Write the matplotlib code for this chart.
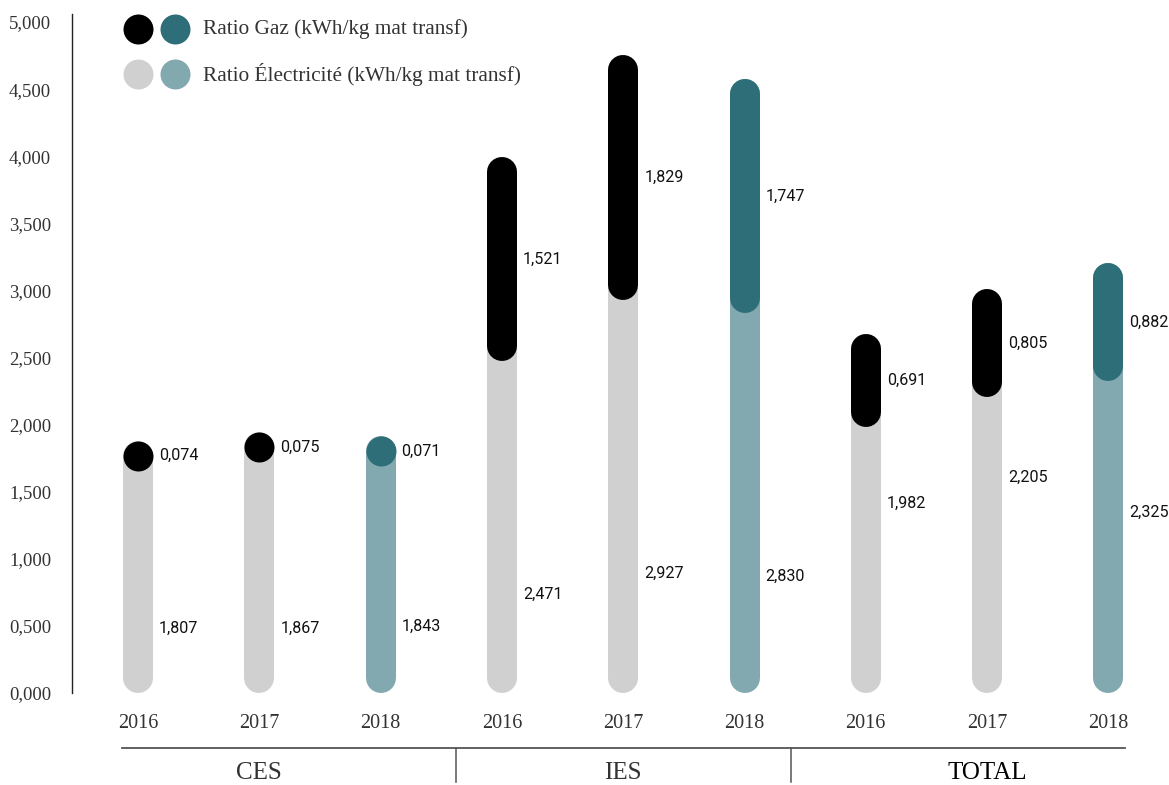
import numpy as np
import matplotlib.pyplot as plt

# data
groups = ["CES", "IES", "TOTAL"]
years = ["2016", "2017", "2018"]
elec = [1.807, 1.867, 1.843, 2.471, 2.927, 2.830, 1.982, 2.205, 2.325]
gaz = [0.074, 0.075, 0.071, 1.521, 1.829, 1.747, 0.691, 0.805, 0.882]
# where the electricity value labels sit (data units)
elec_label_y = [0.484, 0.484, 0.499, 0.738, 0.894, 0.872, 1.416, 1.609, 1.349]

GRAY = "#d0d0d0"
BLACK = "#000000"
TEAL = "#2e6e78"
LTEAL = "#82a9af"

SERIF = "Liberation Serif"
SANS = "Roboto"

W, H = 1169, 785
fig = plt.figure(figsize=(W / 100, H / 100), dpi=100)
# axes box in pixels: left spine at x=72, y=0 at 693px, top at 14px
ax_left, ax_bottom, ax_top = 72, 693, 14
ax = fig.add_axes([ax_left / W, (H - ax_bottom) / H, (W - ax_left) / W, (ax_bottom - ax_top) / H])

ymax = 5.06
step = 121.3  # px between bars
x0 = 138      # px of first bar
ax.set_xlim(-(x0 - ax_left) / step, (W - x0) / step)
ax.set_ylim(0, ymax)

px_per_unit = (ax_bottom - ax_top) / ymax
bar_px = 30
r = (bar_px / 2) / px_per_unit
lw = bar_px * 72 / 100


def rounded_bar(x, lo, hi, color, z):
    # bar with round ends that stays inside [lo, hi]
    if hi - lo >= 2 * r:
        ax.plot([x, x], [lo + r, hi - r], color=color, lw=lw,
                solid_capstyle="round", clip_on=False, zorder=z)
        return (lo + hi) / 2
    c = hi - r
    ax.plot([x], [c], marker="o", ms=lw, color=color, mec="none",
            clip_on=False, zorder=z)
    return c


n = len(elec)
for i in range(n):
    last = (i % 3) == 2
    ce = LTEAL if last else GRAY
    cg = TEAL if last else BLACK
    total = elec[i] + gaz[i]
    # electricity bar runs up behind the gas cap
    rounded_bar(i, 0, total, ce, 2)
    yg = rounded_bar(i, elec[i], total, cg, 3)
    dx = 21 / step
    ax.text(i + dx, yg, f"{gaz[i]:.3f}".replace(".", ","), fontsize=11.6,
            family=SANS, va="center", ha="left", color="#111111")
    ax.text(i + dx, elec_label_y[i], f"{elec[i]:.3f}".replace(".", ","),
            fontsize=11.6, family=SANS, va="center", ha="left", color="#111111")

# y axis
ticks = np.arange(0, 5.01, 0.5)
ax.set_yticks(ticks)
ax.set_yticklabels([f"{t:.3f}".replace(".", ",") for t in ticks],
                   family=SERIF, fontsize=13.5, color="#333333")
ax.tick_params(axis="y", length=0, pad=15)
ax.set_xticks([])
for s in ["top", "right", "bottom"]:
    ax.spines[s].set_visible(False)
ax.spines["left"].set_color("#222222")
ax.spines["left"].set_linewidth(1.0)


def ay(py):
    # pixel row -> axes fraction
    return (ax_bottom - py) / (ax_bottom - ax_top)


tr = ax.get_xaxis_transform()
for i in range(n):
    ax.text(i, ay(723), years[i % 3], ha="center", va="center",
            family=SERIF, fontsize=14.5, color="#333333", transform=tr)

line_l = -16 / step
line_r = (n - 1) + 17 / step
ax.plot([line_l, line_r], [ay(748), ay(748)], color="#555555", lw=1.3,
        transform=tr, clip_on=False)
third = (line_r - line_l) / 3
for k in (1, 2):
    xs = line_l + k * third
    ax.plot([xs, xs], [ay(748), ay(782)], color="#555555", lw=1.1,
            transform=tr, clip_on=False)
for k, g in enumerate(groups):
    ax.text(3 * k + 1, ay(773), g, ha="center", va="center", family=SERIF,
            fontsize=18, color="#000000" if g == "TOTAL" else "#333333",
            transform=tr)

# legend
leg = [("Ratio Gaz (kWh/kg mat transf)", BLACK, TEAL, 29),
       ("Ratio Électricité (kWh/kg mat transf)", GRAY, LTEAL, 74)]
for label, c1, c2, py in leg:
    for cx, c in ((137.5, c1), (175, c2)):
        fig.add_artist(plt.Line2D([cx / W], [1 - py / H], marker="o", ms=lw,
                                  color=c, mec="none", transform=fig.transFigure))
    fig.text(203 / W, 1 - py / H, label, ha="left", va="center", family=SERIF,
             fontsize=15.3, color="#333333")

fig.savefig("out.png", dpi=100)
